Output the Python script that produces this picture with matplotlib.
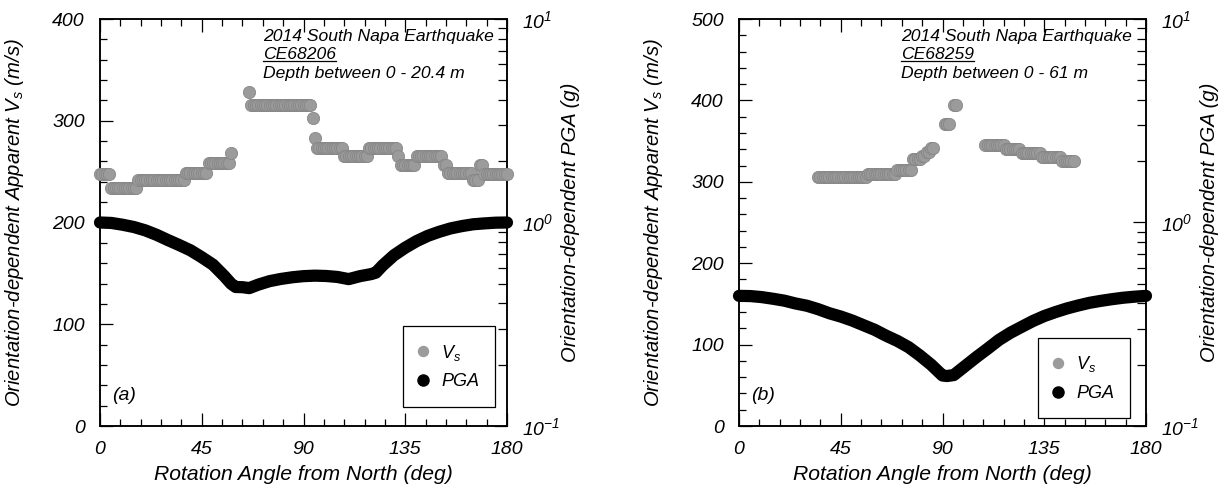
import numpy as np
import matplotlib
matplotlib.use("Agg")
import matplotlib.pyplot as plt
from matplotlib.lines import Line2D
from matplotlib.ticker import MultipleLocator, LogLocator, FixedLocator, FixedFormatter, NullFormatter

plt.rcParams['font.family'] = ['Liberation Sans', 'DejaVu Sans']
plt.rcParams['font.style'] = 'italic'
plt.rcParams['mathtext.fontset'] = 'custom'
plt.rcParams['mathtext.rm'] = 'Liberation Sans:italic'
plt.rcParams['mathtext.it'] = 'Liberation Sans:italic'
plt.rcParams['mathtext.bf'] = 'Liberation Sans:italic:bold'

nan = np.nan

# ---------------- data: panel (a) CE68206 ----------------
angle_vs = list(range(0, 181))
vs_a = [
    248, 248, 248, 248, 248, 234, 234, 234, 234, 234,
    234, 234, 234, 234, 234, 234, 234, 242, 242, 242,
    242, 242, 242, 242, 242, 242, 242, 242, 242, 242,
    242, 242, 242, 242, 242, 242, 242, 242, 249, 249,
    249, 249, 249, 249, 249, 249, 249, 249, 258, 258,
    258, 258, 258, 258, 258, 258, 258, 258, 268, nan,
    nan, nan, nan, nan, nan, nan, 328, 315, 315, 315,
    315, 315, 315, 315, 315, 315, 315, 315, 315, 315,
    315, 315, 315, 315, 315, 315, 315, 315, 315, 315,
    315, 315, 315, 315, 303, 283, 273, 273, 273, 273,
    273, 273, 273, 273, 273, 273, 273, 273, 265, 265,
    265, 265, 265, 265, 265, 265, 265, 265, 265, 273.5,
    273.5, 273.5, 273.5, 273.5, 273.5, 273.5, 273.5, 273.5, 273.5, 273.5,
    273.5, 273.5, 265, 256.5, 256.5, 256.5, 256.5, 256.5, 256.5, 256.5,
    265, 265, 265, 265, 265, 265, 265, 265, 265, 265,
    265, 265, 256.5, 256.5, 249, 249, 249, 249, 249, 249,
    249, 249, 249, 249, 249, 242, 242, 242, 256.5, 256.5,
    248, 248, 248, 248, 248, 248, 248, 248, 248, 248,
    248,
]

angle_pga_a = [0, 5, 10, 15, 20, 25, 30, 35, 40, 45, 50, 55, 58, 60, 63, 66,
               70, 75, 80, 85, 90, 95, 100, 105, 110, 115, 120, 122, 125,
               130, 135, 140, 145, 150, 155, 160, 165, 170, 175, 180]
pga_a = [1.0, 0.995, 0.975, 0.95, 0.915, 0.87, 0.82, 0.775, 0.73, 0.675,
         0.62, 0.545, 0.50, 0.482, 0.481, 0.476, 0.495, 0.515, 0.528, 0.538,
         0.545, 0.548, 0.546, 0.54, 0.527, 0.545, 0.558, 0.567, 0.615,
         0.69, 0.752, 0.81, 0.86, 0.90, 0.935, 0.96, 0.98, 0.99, 0.998, 1.0]

# ---------------- data: panel (b) CE68259 ----------------
vs_b = [
    nan, nan, nan, nan, nan, nan, nan, nan, nan, nan,
    nan, nan, nan, nan, nan, nan, nan, nan, nan, nan,
    nan, nan, nan, nan, nan, nan, nan, nan, nan, nan,
    nan, nan, nan, nan, nan, 306, 306, 306, 306, 306,
    306, 306, 306, 306, 306, 306, 306, 306, 306, 306,
    306, 306, 306, 306, 306, 306, 306, 309, 309, 309,
    309, 309, 309, 309, 309, 309, 309, 309, 309, 309,
    314.5, 314.5, 314.5, 314.5, 314.5, 314.5, 314.5, 328, 328, 328,
    328, 332, 332, 337, 337, 341, 341, nan, nan, nan,
    nan, 371, 371, 371, nan, 394, 394, nan, nan, nan,
    nan, nan, nan, nan, nan, nan, nan, nan, nan, 345,
    345, 345, 345, 345, 345, 345, 345, 345, 340, 340,
    340, 340, 340, 340, 340, 335.5, 335.5, 335.5, 335.5, 335.5,
    335.5, 335.5, 335.5, 335.5, 330.5, 330.5, 330.5, 330.5, 330.5, 330.5,
    330.5, 330.5, 330.5, 326, 326, 326, 326, 326, 326, nan,
    nan, nan, nan, nan, nan, nan, nan, nan, nan, nan,
    nan, nan, nan, nan, nan, nan, nan, nan, nan, nan,
    nan, nan, nan, nan, nan, nan, nan, nan, nan, nan,
    nan,
]

angle_pga_b = [0, 5, 10, 15, 20, 25, 30, 35, 40, 45, 50, 55, 60, 65, 70, 75,
               80, 85, 90, 92, 95, 100, 105, 110, 115, 120, 125, 130, 135,
               140, 145, 150, 155, 160, 165, 170, 175, 180]
pga_b = [0.436, 0.435, 0.43, 0.422, 0.413, 0.40, 0.39, 0.375, 0.358, 0.345,
         0.33, 0.313, 0.297, 0.278, 0.262, 0.244, 0.222, 0.20, 0.177, 0.176,
         0.178, 0.197, 0.218, 0.24, 0.265, 0.287, 0.307, 0.328, 0.347,
         0.363, 0.378, 0.391, 0.403, 0.412, 0.42, 0.427, 0.432, 0.436]

panels = [
    dict(vs=vs_a, ang_pga=angle_pga_a, pga=pga_a, vmax=400, vmajor=100, vminor=20,
         station="CE68206", depth="Depth between 0 - 20.4 m", tag="(a)",
         left=100, leg=(0.858, 0.146), tx=0.40),
    dict(vs=vs_b, ang_pga=angle_pga_b, pga=pga_b, vmax=500, vmajor=100, vminor=20,
         station="CE68259", depth="Depth between 0 - 61 m", tag="(b)",
         left=739, leg=(0.848, 0.118), tx=0.398),
]

W, H = 1225, 486
fig = plt.figure(figsize=(W / 100, H / 100), dpi=100)

VS_COLOR = '#9b9b9b'
VS_EDGE = '#878787'
FS_TICK = 14
FS_LAB = 14.6
FS_NOTE = 12.6

underline_texts = []

for p in panels:
    ax = fig.add_axes([p['left'] / W, (H - 426) / H, 407 / W, 407 / H])
    ax2 = ax.twinx()

    # Vs on left axis
    ax.plot(angle_vs, p['vs'], linestyle='none', marker='o', markersize=8.8,
            markerfacecolor=VS_COLOR, markeredgecolor=VS_EDGE, markeredgewidth=0.6,
            clip_on=False, zorder=3)
    # PGA on right (log) axis
    ax2.plot(p['ang_pga'], p['pga'], color='black', linewidth=8.8,
             solid_capstyle='round', solid_joinstyle='round',
             clip_on=False, zorder=3)

    ax.set_xlim(0, 180)
    ax.set_ylim(0, p['vmax'])
    ax2.set_ylim(0.1, 10)
    ax2.set_yscale('log')

    ax.xaxis.set_major_locator(MultipleLocator(45))
    ax.xaxis.set_minor_locator(MultipleLocator(9))
    ax.yaxis.set_major_locator(MultipleLocator(p['vmajor']))
    ax.yaxis.set_minor_locator(MultipleLocator(p['vminor']))

    ax2.yaxis.set_major_locator(FixedLocator([0.1, 1, 10]))
    ax2.yaxis.set_major_formatter(FixedFormatter(['$10^{-1}$', '$10^{0}$', '$10^{1}$']))
    ax2.yaxis.set_minor_locator(LogLocator(base=10, subs=np.arange(2, 10)))
    ax2.yaxis.set_minor_formatter(NullFormatter())

    ax.tick_params(which='both', direction='in', top=True, right=False,
                   labelsize=FS_TICK, width=0.9, colors='black')
    ax.tick_params(which='major', length=9.5)
    ax.tick_params(which='minor', length=4.8)
    ax.tick_params(axis='x', pad=11)
    ax.tick_params(axis='y', pad=11)
    ax2.tick_params(which='both', direction='in', labelsize=FS_TICK, width=0.9)
    ax2.tick_params(which='major', length=9.5, pad=11)
    ax2.tick_params(which='minor', length=6.5)

    for a in (ax, ax2):
        for s in a.spines.values():
            s.set_linewidth(1.1)

    ax.set_xlabel('Rotation Angle from North (deg)', fontsize=15.2, labelpad=5)
    ax.set_ylabel('Orientation-dependent Apparent V$_s$ (m/s)', fontsize=FS_LAB, labelpad=19)
    ax2.set_ylabel('Orientation-dependent PGA (g)', fontsize=FS_LAB, labelpad=0)

    ax.set_zorder(ax2.get_zorder() + 1)
    ax.patch.set_visible(False)

    # annotation
    tx = p['tx']
    ax.text(tx, 0.975, '2014 South Napa Earthquake', transform=ax.transAxes,
            fontsize=FS_NOTE, va='top', ha='left')
    t2 = ax.text(tx, 0.93, p['station'], transform=ax.transAxes,
                 fontsize=FS_NOTE, va='top', ha='left')
    underline_texts.append(t2)
    ax.text(tx, 0.885, p['depth'], transform=ax.transAxes,
            fontsize=FS_NOTE, va='top', ha='left')

    ax.text(0.03, 0.075, p['tag'], transform=ax.transAxes, fontsize=14,
            va='center', ha='left')

    handles = [
        Line2D([], [], linestyle='none', marker='o', markersize=7.2,
               markerfacecolor=VS_COLOR, markeredgecolor=VS_COLOR),
        Line2D([], [], linestyle='none', marker='o', markersize=8,
               markerfacecolor='black', markeredgecolor='black'),
    ]
    leg = ax.legend(handles, ['$V_s$', 'PGA'], loc='center',
                    bbox_to_anchor=p['leg'], bbox_transform=ax.transAxes,
                    fontsize=13, frameon=True, fancybox=False, framealpha=1,
                    edgecolor='black', handlelength=0.4, handletextpad=0.8,
                    labelspacing=0.6, borderpad=0.9, borderaxespad=0.0)
    leg.get_frame().set_linewidth(0.9)
    leg.set_zorder(10)

fig.canvas.draw()
renderer = fig.canvas.get_renderer()
for t in underline_texts:
    bb = t.get_window_extent(renderer)
    y = bb.y0 + 1.5
    fig.add_artist(Line2D([bb.x0 / W, bb.x1 / W], [y / H, y / H],
                          color='black', linewidth=0.9, transform=fig.transFigure))

fig.savefig('out.png', dpi=100)
